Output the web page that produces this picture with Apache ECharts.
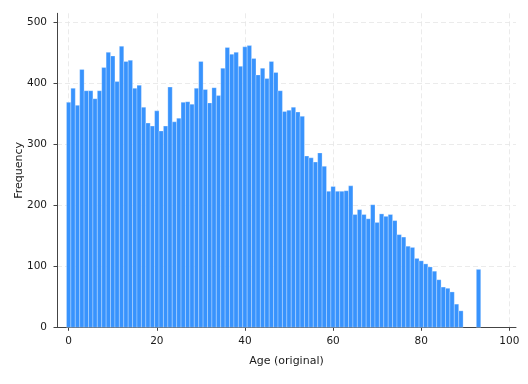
<!DOCTYPE html>
<html>
<head>
<meta charset="utf-8">
<script src="https://cdn.jsdelivr.net/npm/echarts@6/dist/echarts.min.js"></script>
<style>html,body{margin:0;padding:0;background:#fff}#c{width:528px;height:384px}</style>
</head>
<body>
<div id="c"></div>
<script>
const ages = [0,1,2,3,4,5,6,7,8,9,10,11,12,13,14,15,16,17,18,19,20,21,22,23,24,25,26,27,28,29,30,31,32,33,34,35,36,37,38,39,40,41,42,43,44,45,46,47,48,49,50,51,52,53,54,55,56,57,58,59,60,61,62,63,64,65,66,67,68,69,70,71,72,73,74,75,76,77,78,79,80,81,82,83,84,85,86,87,88,89,93];
const frequency = [369,392,364,423,388,388,375,388,426,451,445,403,461,436,438,392,397,361,335,330,355,322,330,394,337,343,369,370,366,392,436,390,368,393,380,425,459,448,451,428,460,462,441,414,425,408,436,418,388,354,356,361,353,346,281,278,271,286,264,223,231,223,223,224,232,185,193,185,178,201,172,186,182,185,175,152,148,133,131,113,109,104,99,92,78,66,64,58,38,27,95];
const xTicks = [0,20,40,60,80,100];
const yTicks = [0,100,200,300,400,500];

const data = ages.map((a, i) => [a, frequency[i]]);
const font = 'DejaVu Sans';
const chart = echarts.init(document.getElementById('c'), null, {renderer: 'canvas'});
chart.setOption({
  animation: false,
  backgroundColor: '#fff',
  grid: {left: 57, right: 12, top: 13.3, bottom: 56.7},
  xAxis: {
    type: 'value', min: -2.65, max: 101.5,
    name: 'Age (original)', nameLocation: 'middle', nameGap: 28,
    nameTextStyle: {fontFamily: font, fontSize: 11, color: '#1a1a1a'},
    axisLine: {show: true, onZero: false, lineStyle: {color: '#444', width: 1}},
    axisTick: {show: true, length: 3.5, customValues: xTicks, lineStyle: {color: '#444'}},
    axisLabel: {customValues: xTicks, margin: 8, fontFamily: font, fontSize: 10.5, color: '#1a1a1a'},
    splitLine: {show: true, lineStyle: {color: '#e6e6e6', type: [5, 3], width: 0.8}}
  },
  yAxis: {
    type: 'value', min: 0, max: 515,
    name: 'Frequency', nameLocation: 'middle', nameGap: 32, nameMoveOverlap: false,
    nameTextStyle: {fontFamily: font, fontSize: 11, color: '#1a1a1a'},
    axisLine: {show: true, onZero: false, lineStyle: {color: '#444', width: 1}},
    axisTick: {show: true, length: 3.5, customValues: yTicks, lineStyle: {color: '#444'}},
    axisLabel: {customValues: yTicks, margin: 10, fontFamily: font, fontSize: 10.5, color: '#1a1a1a'},
    splitLine: {show: true, lineStyle: {color: '#e6e6e6', type: [5, 3], width: 0.8}}
  },
  series: [{
    type: 'custom',
    data: data,
    encode: {x: 0, y: 1},
    renderItem: function (params, api) {
      const x = api.value(0), y = api.value(1);
      const p0 = api.coord([x - 0.5, y]);
      const p1 = api.coord([x + 0.5, 0]);
      return {
        type: 'rect',
        shape: {x: p0[0], y: p0[1], width: p1[0] - p0[0], height: p1[1] - p0[1]},
        style: {fill: '#3893fd', stroke: 'rgba(255,255,255,0.35)', lineWidth: 0.8}
      };
    }
  }]
});
</script>
</body>
</html>
